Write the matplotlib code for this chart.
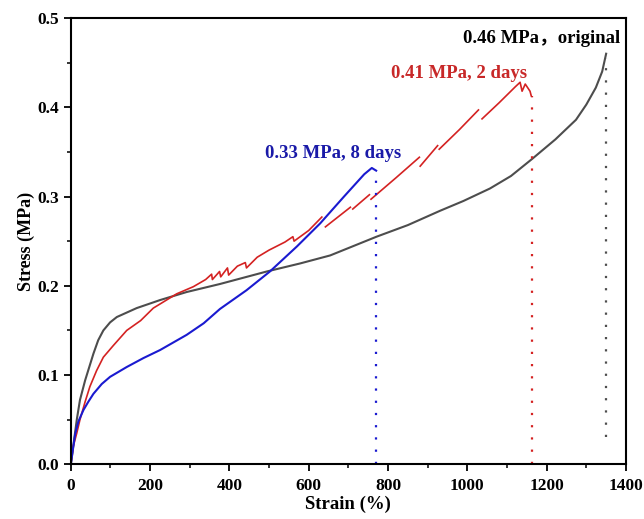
import numpy as np
import matplotlib
matplotlib.use("Agg")
import matplotlib.pyplot as plt
from matplotlib.ticker import MultipleLocator

plt.rcParams["font.family"] = ["Liberation Serif", "Noto Sans CJK SC"]
plt.rcParams["font.weight"] = "bold"

# ---------------------------------------------------------
# Data
# ---------------------------------------------------------

# original sample
strain_orig = [0, 6, 15, 23, 36, 57, 69, 82, 99, 116, 141, 166, 225, 292, 376,
               494, 578, 654, 771, 850, 931, 990, 1057, 1110, 1163, 1222,
               1274, 1300, 1324, 1340, 1350]
stress_orig = [0, 0.02, 0.05, 0.072, 0.094, 0.124, 0.139, 0.15, 0.159, 0.165,
               0.170, 0.175, 0.184, 0.193, 0.202, 0.216, 0.225, 0.234, 0.255,
               0.268, 0.284, 0.295, 0.309, 0.323, 0.342, 0.364, 0.386, 0.403,
               0.422, 0.44, 0.46]

# 8 days
strain_8d = [0, 5, 11, 19, 32, 44, 57, 78, 99, 141, 183, 225, 292, 335, 376,
             443, 502, 570, 629, 689, 740, 759, 770]
stress_8d = [0, 0.016, 0.034, 0.048, 0.061, 0.07, 0.079, 0.09, 0.098, 0.109,
             0.119, 0.128, 0.145, 0.158, 0.174, 0.195, 0.216, 0.244, 0.27,
             0.3, 0.325, 0.332, 0.329]

# 2 days (NaN = gap between slipping segments)
strain_2d = [0, 6, 15, 23, 36, 48, 65, 82, 107, 141, 176, 208, 267, 309, 340,
             355, 357, 375, 378, 395, 398, 420, 440, 443, 470, 500, 540, 560,
             563, 600, 633, np.nan,
             642, 705, np.nan, 711, 753, np.nan, 757, 820, 879, np.nan,
             881, 925, np.nan, 929, 980, 1028, np.nan,
             1037, 1080, 1121, 1133, 1138, 1146, 1158, 1161]
stress_2d = [0, 0.02, 0.035, 0.05, 0.07, 0.087, 0.105, 0.12, 0.133, 0.15, 0.161,
             0.175, 0.191, 0.199, 0.207, 0.213, 0.207, 0.216, 0.21, 0.22,
             0.212, 0.222, 0.226, 0.22, 0.232, 0.24, 0.249, 0.255, 0.25,
             0.262, 0.277, np.nan,
             0.266, 0.288, np.nan, 0.286, 0.302, np.nan, 0.297, 0.321, 0.344, np.nan,
             0.334, 0.357, np.nan, 0.353, 0.375, 0.397, np.nan,
             0.387, 0.405, 0.423, 0.428, 0.418, 0.426, 0.418, 0.413]

# break points (strain, top of dotted line, bottom of dotted line)
break_strain = [770, 1162, 1350]
break_top = [0.329, 0.413, 0.455]
break_bottom = [0.0, 0.0, 0.031]

labels = ["0.33 MPa, 8 days", "0.41 MPa, 2 days", "0.46 MPa\uff0coriginal"]

c_gray = "#4d4d4d"
c_red = "#d42222"
c_blue = "#1a1ad0"

# ---------------------------------------------------------
# Plot
# ---------------------------------------------------------

fig = plt.figure(figsize=(6.44, 5.19), dpi=100)
ax = fig.add_axes([0.110, 0.1054, 0.862, 0.8599])

ax.plot(strain_orig, stress_orig, color=c_gray, linewidth=1.5)
ax.plot(strain_2d, stress_2d, color=c_red, linewidth=1.2)
ax.plot(strain_8d, stress_8d, color=c_blue, linewidth=1.5)

# dotted drop lines at break
for xs, top, bot, col in zip(break_strain, break_top, break_bottom,
                             [c_blue, c_red, c_gray]):
    ax.plot([xs, xs], [bot, top], color=col, linewidth=1.6,
            linestyle=(0, (1, 4.5)))

# annotations
ax.text(662, 0.348, labels[0], color="#1a1aa8", fontsize=13.5,
        fontweight="bold", ha="center", va="center")
ax.text(979, 0.438, labels[1], color="#c82828", fontsize=13.5,
        fontweight="bold", ha="center", va="center")
ax.text(1386, 0.477, labels[2], color="black", fontsize=13.5,
        fontweight="bold", ha="right", va="center")

ax.set_xlim(0, 1400)
ax.set_ylim(0, 0.5)
ax.xaxis.set_major_locator(MultipleLocator(200))
ax.xaxis.set_minor_locator(MultipleLocator(100))
ax.yaxis.set_major_locator(MultipleLocator(0.1))
ax.yaxis.set_minor_locator(MultipleLocator(0.05))
ax.yaxis.set_major_formatter(plt.FuncFormatter(lambda v, p: f"{v:.1f}"))

ax.tick_params(which="major", direction="out", length=5, width=1.3,
               labelsize=12.5, top=False, right=False)
ax.tick_params(axis="x", which="major", pad=5)
ax.tick_params(which="minor", direction="out", length=3, width=1.1,
               top=False, right=False)
for lab in ax.get_xticklabels() + ax.get_yticklabels():
    lab.set_fontweight("bold")

for side in ["left", "bottom", "top", "right"]:
    ax.spines[side].set_linewidth(1.5)

ax.set_xlabel("Strain (%)", fontsize=13.5, fontweight="bold", labelpad=1)
ax.set_ylabel("Stress (MPa)", fontsize=13, fontweight="bold", labelpad=2)

fig.savefig("out.png", dpi=100)
plt.close(fig)
